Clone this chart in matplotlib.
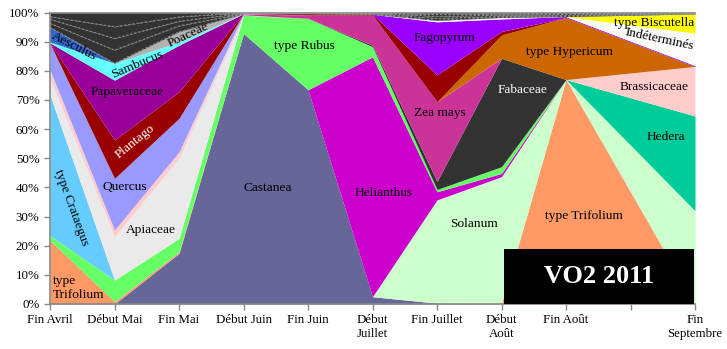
import matplotlib
matplotlib.use("Agg")
import matplotlib.pyplot as plt
import numpy as np

plt.rcParams['font.family'] = ['Liberation Serif', 'DejaVu Serif']

# Category positions (index 9 is an unlabeled tick with no data)
x_pos = [0, 1, 2, 3, 4, 5, 6, 7, 8, 10]
tick_pos = list(range(11))
tick_labels = ["Fin Avril", "Début Mai", "Fin Mai", "Début Juin", "Fin Juin",
               "Début\nJuillet", "Fin Juillet", "Début\nAoût", "Fin Août", "",
               "Fin\nSeptembre"]

# Series (bottom -> top), percentages
castanea     = [0, 0, 17.4, 92.8, 73.5, 2.5, 0.3, 0, 0, 0]
trifolium    = [21.8, 0.8, 0.5, 0, 0, 0, 0, 0.3, 77, 0]
solanum      = [0, 0, 0, 0, 0, 0, 35.4, 43.4, 0, 32]
helianthus   = [0, 0, 0, 0, 0, 82.3, 2.8, 1.1, 0, 0]
rubus        = [1.7, 7.4, 4.6, 6.3, 24.5, 3.5, 0.8, 2.3, 0, 0]
crataegus    = [48.2, 0, 0, 0, 0, 0, 0, 0, 0, 0]
apiaceae     = [5.7, 14.9, 27.5, 0.1, 0, 0, 0, 0, 0, 0]
fabaceae     = [0, 0, 0, 0, 0, 0.5, 2.7, 37.2, 0, 0]
zea_mays     = [0, 0, 0, 0.2, 1.2, 10.3, 27.4, 0, 0, 0]
hedera       = [0, 0, 0, 0, 0, 0, 0, 0, 0, 32.5]
brassicaceae = [2.9, 2.3, 2.2, 0.1, 0, 0, 0, 0, 0, 17]
hypericum    = [0, 0, 0, 0, 0, 0, 0, 8, 21.3, 0]
quercus      = [9.1, 17.7, 11.5, 0.1, 0, 0, 0, 0, 0, 0]
plantago     = [0.1, 13.2, 9.1, 0, 0.4, 0.3, 9.2, 1.2, 0, 0]
papaveraceae = [0.1, 20.5, 16, 0, 0, 0, 0, 0, 0, 0]
fagopyrum    = [0, 0, 0, 0, 0, 0, 18.2, 4.3, 0.3, 0.3]
sambucus     = [0.3, 5.8, 1.1, 0, 0, 0, 0, 0, 0, 0]
aesculus     = [5.0, 0, 0, 0, 0, 0, 0, 0, 0, 0]
poaceae      = [0, 0, 3.5, 0, 0, 0, 0, 0, 0, 0]
indetermines = [0, 0, 0, 0, 0, 0, 0.5, 0.5, 0, 11.1]
biscutella   = [0, 0, 0, 0, 0, 0, 0, 0, 0, 6.6]
autres1      = [1.4, 4.5, 2.0, 0.1, 0.1, 0.15, 0.7, 0.4, 0.35, 0.1]
autres2      = [1.4, 4.0, 1.6, 0.1, 0.1, 0.15, 0.7, 0.4, 0.35, 0.1]
autres3      = [0.9, 4.0, 1.5, 0.1, 0.1, 0.15, 0.6, 0.4, 0.35, 0.15]
autres4      = [1.4, 4.9, 1.5, 0.1, 0.1, 0.15, 0.7, 0.5, 0.35, 0.15]

series = [
    (castanea, '#666699'), (trifolium, '#FF9966'), (solanum, '#CCFFCC'),
    (helianthus, '#CC00CC'), (rubus, '#66FF66'), (crataegus, '#66CCFF'),
    (apiaceae, '#EAEAEA'), (fabaceae, '#333333'), (zea_mays, '#CC3399'),
    (hedera, '#00CC99'), (brassicaceae, '#FFCCCC'), (hypericum, '#CC6600'),
    (quercus, '#9999FF'), (plantago, '#990000'), (papaveraceae, '#990099'),
    (fagopyrum, '#9900FF'), (sambucus, '#66FFFF'), (aesculus, '#3366CC'),
    (poaceae, '#B2B2B2'), (indetermines, '#FAFAFA'), (biscutella, '#FFFF00'),
    (autres1, '#333333'), (autres2, '#333333'), (autres3, '#333333'),
    (autres4, '#333333'),
]

data = np.array([s for s, _ in series], dtype=float)
data = data / data.sum(axis=0) * 100
xs = np.array(x_pos, dtype=float)

fig = plt.figure(figsize=(7.27, 3.49), dpi=100)
ax = fig.add_axes([50/727, 1-304/349, (695-50)/727, (304-12.5)/349])

base = np.zeros(len(xs))
n_dark = 4
for i, (vals, col) in enumerate(zip(data, [c for _, c in series])):
    top = base + vals
    ax.fill_between(xs, base, top, color=col, lw=0, zorder=2)
    if i >= len(series) - n_dark:
        ax.plot(xs, base, color='#999999', lw=0.6, ls=(0, (3, 2)), zorder=3)
    base = top

ax.set_xlim(0, 10)
ax.set_ylim(0, 100)
ax.set_yticks(np.arange(0, 101, 10))
ax.set_yticklabels([f"{v}%" for v in range(0, 101, 10)])
ax.set_xticks(tick_pos)
ax.set_xticklabels(tick_labels)
ax.tick_params(axis='both', labelsize=9.3, colors='#888888', labelcolor='black',
               direction='out', length=4, width=1)
for s in ['top', 'right']:
    ax.spines[s].set_visible(False)
for s in ['left', 'bottom']:
    ax.spines[s].set_color('#888888')
    ax.spines[s].set_linewidth(1.2)
ax.spines['top'].set_visible(True)
ax.spines['top'].set_color('#888888')
ax.spines['top'].set_linewidth(1.2)

fs = 9.6
labels = [
    ("type\nTrifolium", 0.05, 5.5, 0, 'black', 'left'),
    ("type Crataegus", 0.33, 33.0, -70, 'black', 'center'),
    ("Quercus", 1.16, 40.2, 0, 'black', 'center'),
    ("Apiaceae", 1.57, 25.4, 0, 'black', 'center'),
    ("Papaveraceae", 1.2, 72.8, 0, 'black', 'center'),
    ("Plantago", 1.32, 55.9, 39, 'white', 'center'),
    ("Sambucus", 1.35, 82.3, 23, 'black', 'center'),
    ("Poaceae", 2.14, 92.3, 25, 'black', 'center'),
    ("Aesculus", 0.37, 88.5, -27, 'black', 'center'),
    ("Castanea", 3.38, 39.8, 0, 'black', 'center'),
    ("type Rubus", 3.95, 88.6, 0, 'black', 'center'),
    ("Helianthus", 5.17, 38.0, 0, 'black', 'center'),
    ("Zea mays", 6.05, 65.5, 0, 'black', 'center'),
    ("Fagopyrum", 6.12, 91.1, 0, 'black', 'center'),
    ("Solanum", 6.57, 27.4, 0, 'black', 'center'),
    ("Fabaceae", 7.33, 73.4, 0, 'white', 'center'),
    ("type Hypericum", 8.05, 86.6, 0, 'black', 'center'),
    ("type Biscutella", 9.36, 96.5, 0, 'black', 'center'),
    ("Indéterminés", 9.44, 90.9, -12, 'black', 'center'),
    ("Brassicaceae", 9.36, 74.3, 0, 'black', 'center'),
    ("Hedera", 9.55, 57.2, 0, 'black', 'center'),
    ("type Trifolium", 8.28, 30.3, 0, 'black', 'center'),
]
for txt, lx, ly, rot, col, ha in labels:
    ax.text(lx, ly, txt, rotation=rot, color=col, fontsize=fs, ha=ha,
            va='center', zorder=5, rotation_mode='anchor' if rot else 'default',
            linespacing=1.15)

# Black title box
bx0 = (504 - 50) / 64.5
bx1 = (694 - 50) / 64.5
by1 = (304 - 249.3) / 2.915
ax.fill_between([bx0, bx1], [0, 0], [by1, by1], color='black', lw=0, zorder=6)
ax.text((bx0 + bx1) / 2, by1 / 2, "VO2 2011", color='white', fontsize=19,
        fontweight='bold', ha='center', va='center', zorder=7)

fig.savefig("out.png", dpi=100)
